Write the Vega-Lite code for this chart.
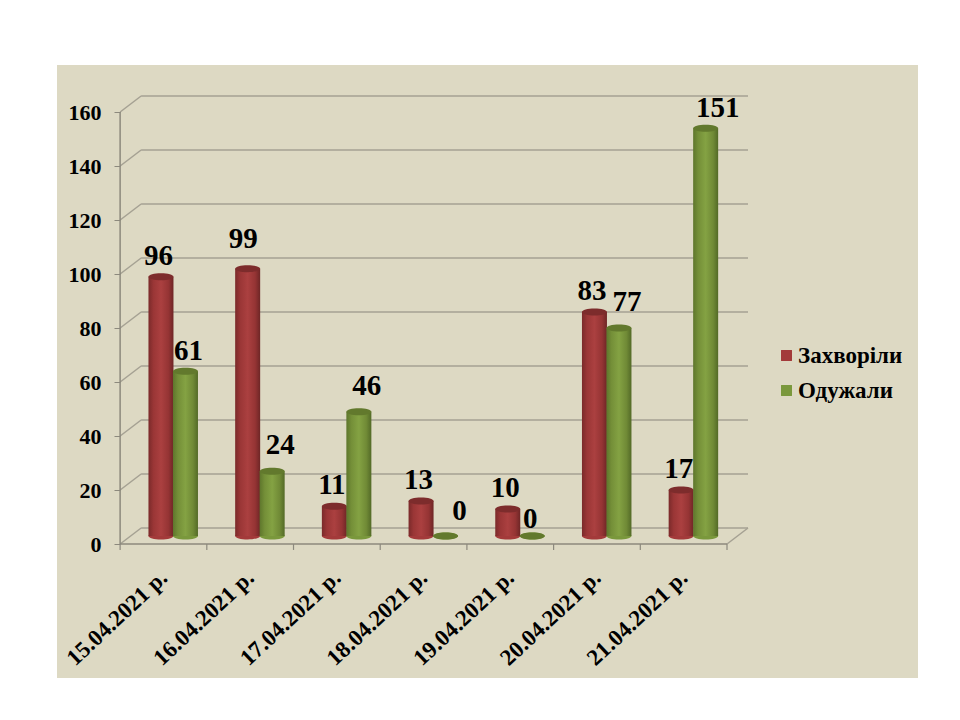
{
  "$schema": "https://vega.github.io/schema/vega-lite/v6.json",
  "background": "#ffffff",
  "autosize": "none",
  "padding": {"left": 57, "top": 65, "right": 42, "bottom": 42},
  "width": 861,
  "height": 613,
  "config": {"view": {"fill": "#DDD9C3", "stroke": null}},
  "datasets": {
    "bars": [
      {"day": 15, "series": "Захворіли", "value": 96},
      {"day": 16, "series": "Захворіли", "value": 99},
      {"day": 17, "series": "Захворіли", "value": 11},
      {"day": 18, "series": "Захворіли", "value": 13},
      {"day": 19, "series": "Захворіли", "value": 10},
      {"day": 20, "series": "Захворіли", "value": 83},
      {"day": 21, "series": "Захворіли", "value": 17},
      {"day": 15, "series": "Одужали", "value": 61},
      {"day": 16, "series": "Одужали", "value": 24},
      {"day": 17, "series": "Одужали", "value": 46},
      {"day": 18, "series": "Одужали", "value": 0},
      {"day": 19, "series": "Одужали", "value": 0},
      {"day": 20, "series": "Одужали", "value": 77},
      {"day": 21, "series": "Одужали", "value": 151}
    ],
    "grid": [{"v": 0}, {"v": 20}, {"v": 40}, {"v": 60}, {"v": 80}, {"v": 100}, {"v": 120}, {"v": 140}, {"v": 160}],
    "ticks": [{"t": 14.5}, {"t": 15.5}, {"t": 16.5}, {"t": 17.5}, {"t": 18.5}, {"t": 19.5}, {"t": 20.5}, {"t": 21.5}]
  },
  "encoding": {
    "x": {
      "type": "quantitative",
      "scale": {"domain": [13.772, 23.703], "nice": false, "zero": false, "padding": 0},
      "title": null
    },
    "y": {
      "type": "quantitative",
      "scale": {"domain": [-49.63, 177.41], "nice": false, "zero": false},
      "title": null
    }
  },
  "layer": [
    {
      "data": {"name": "grid"},
      "mark": {"type": "rule", "color": "#A5A193", "strokeWidth": 1.5, "xOffset": 21, "x2Offset": 21, "yOffset": -16},
      "encoding": {
        "x": {
          "datum": 14.5,
          "axis": {
            "values": [15, 16, 17, 18, 19, 20, 21],
            "labelExpr": "datum.value + '.04.2021 р.'",
            "labelAngle": -43,
            "labelAlign": "right",
            "labelBaseline": "middle",
            "labelFont": "Liberation Serif",
            "labelFontWeight": "bold",
            "labelFontSize": 23,
            "labelColor": "#000000",
            "labelPadding": 30,
            "labelOverlap": false,
            "labelBound": false,
            "labelFlush": false,
            "ticks": false,
            "domain": false,
            "grid": false,
            "offset": -134
          }
        },
        "x2": {"datum": 21.5},
        "y": {
          "field": "v",
          "type": "quantitative",
          "axis": {
            "values": [0, 20, 40, 60, 80, 100, 120, 140, 160],
            "labelFont": "Liberation Serif",
            "labelFontWeight": "bold",
            "labelFontSize": 22,
            "labelColor": "#000000",
            "labelPadding": 13,
            "tickColor": "#8C897D",
            "tickSize": 6,
            "domain": false,
            "grid": false,
            "offset": -63
          }
        }
      }
    },
    {
      "data": {"name": "grid"},
      "mark": {"type": "rule", "color": "#A5A193", "strokeWidth": 1.5, "x2Offset": 21, "y2Offset": -16},
      "encoding": {
        "x": {"datum": 14.5},
        "x2": {"datum": 14.5},
        "y": {"field": "v", "type": "quantitative"},
        "y2": {"field": "v"}
      }
    },
    {
      "data": {"values": [{"v": 0}]},
      "mark": {"type": "rule", "color": "#A5A193", "strokeWidth": 1.5, "x2Offset": 21, "y2Offset": -16},
      "encoding": {
        "x": {"datum": 21.5},
        "x2": {"datum": 21.5},
        "y": {"field": "v", "type": "quantitative"},
        "y2": {"field": "v"}
      }
    },
    {
      "data": {"values": [{"v": 0}]},
      "mark": {"type": "rule", "color": "#8C897D", "strokeWidth": 1.5},
      "encoding": {
        "x": {"datum": 14.5},
        "x2": {"datum": 21.5},
        "y": {"field": "v", "type": "quantitative"}
      }
    },
    {
      "data": {"values": [{"v": 0, "w": 160}]},
      "mark": {"type": "rule", "color": "#8C897D", "strokeWidth": 1.5},
      "encoding": {
        "x": {"datum": 14.5},
        "y": {"field": "v", "type": "quantitative"},
        "y2": {"field": "w"}
      }
    },
    {
      "data": {"name": "ticks"},
      "mark": {"type": "rule", "color": "#8C897D", "strokeWidth": 1.2},
      "encoding": {
        "x": {"field": "t", "type": "quantitative"},
        "y": {"datum": 0},
        "y2": {"datum": -2.2}
      }
    },
    {
      "data": {"name": "bars"},
      "transform": [{"filter": "datum.series == 'Захворіли'"}],
      "layer": [
        {
          "mark": {"type": "point", "filled": true, "opacity": 1, "size": 625, "xOffset": -2.5, "yOffset": -8, "shape": "M-1,0A1,0.28,0,1,1,1,0A1,0.28,0,1,1,-1,0Z"},
          "encoding": {
            "x": {"field": "day", "type": "quantitative"},
            "y": {"datum": 0},
            "color": {
              "field": "series",
              "type": "nominal",
              "scale": {"domain": ["Захворіли", "Одужали"], "range": ["#A33A3A", "#7A983C"]},
              "legend": {
                "orient": "none",
                "legendX": 718,
                "legendY": 279,
                "title": null,
                "symbolType": "square",
                "symbolSize": 120,
                "labelFont": "Liberation Serif",
                "labelFontWeight": "bold",
                "labelFontSize": 23,
                "labelColor": "#000000",
                "labelOffset": 0,
                "rowPadding": 11
              }
            }
          }
        },
        {
          "mark": {
            "type": "bar",
            "orient": "vertical",
            "width": 25,
            "xOffset": -2.5,
            "yOffset": -8,
            "y2Offset": -8,
            "fill": {
              "gradient": "linear",
              "x1": 0,
              "x2": 1,
              "y1": 0,
              "y2": 0,
              "stops": [
                {"offset": 0, "color": "#7A2A2A"},
                {"offset": 0.2, "color": "#9A3636"},
                {"offset": 0.5, "color": "#AB4040"},
                {"offset": 0.8, "color": "#953434"},
                {"offset": 1, "color": "#6E2626"}
              ]
            }
          },
          "encoding": {
            "x": {"field": "day", "type": "quantitative"},
            "y": {"field": "value", "type": "quantitative"},
            "y2": {"datum": 0}
          }
        },
        {
          "mark": {"type": "point", "filled": true, "opacity": 1, "color": "#7D2C2C", "size": 625, "xOffset": -2.5, "yOffset": -8, "shape": "M-1,0A1,0.28,0,1,1,1,0A1,0.28,0,1,1,-1,0Z"},
          "encoding": {
            "x": {"field": "day", "type": "quantitative"},
            "y": {"field": "value", "type": "quantitative"}
          }
        }
      ]
    },
    {
      "data": {"name": "bars"},
      "transform": [{"filter": "datum.series == 'Одужали'"}],
      "layer": [
        {
          "mark": {"type": "point", "filled": true, "opacity": 1, "size": 625, "xOffset": 22, "yOffset": -8, "shape": "M-1,0A1,0.28,0,1,1,1,0A1,0.28,0,1,1,-1,0Z"},
          "encoding": {
            "x": {"field": "day", "type": "quantitative"},
            "y": {"datum": 0},
            "color": {"field": "series", "type": "nominal"}
          }
        },
        {
          "mark": {
            "type": "bar",
            "orient": "vertical",
            "width": 25,
            "xOffset": 22,
            "yOffset": -8,
            "y2Offset": -8,
            "fill": {
              "gradient": "linear",
              "x1": 0,
              "x2": 1,
              "y1": 0,
              "y2": 0,
              "stops": [
                {"offset": 0, "color": "#5E762C"},
                {"offset": 0.2, "color": "#748F38"},
                {"offset": 0.5, "color": "#84A243"},
                {"offset": 0.8, "color": "#708A36"},
                {"offset": 1, "color": "#536A27"}
              ]
            }
          },
          "encoding": {
            "x": {"field": "day", "type": "quantitative"},
            "y": {"field": "value", "type": "quantitative"},
            "y2": {"datum": 0}
          }
        },
        {
          "mark": {"type": "point", "filled": true, "opacity": 1, "color": "#62792D", "size": 625, "xOffset": 22, "yOffset": -8, "shape": "M-1,0A1,0.28,0,1,1,1,0A1,0.28,0,1,1,-1,0Z"},
          "encoding": {
            "x": {"field": "day", "type": "quantitative"},
            "y": {"field": "value", "type": "quantitative"}
          }
        }
      ]
    },
    {
      "data": {"name": "bars"},
      "transform": [{"filter": "datum.series == 'Захворіли' && datum.day != 16"}],
      "mark": {"type": "text", "font": "Liberation Serif", "fontWeight": "bold", "fontSize": 29, "color": "#000000", "baseline": "middle", "xOffset": -5, "yOffset": -29},
      "encoding": {"x": {"field": "day", "type": "quantitative"}, "y": {"field": "value", "type": "quantitative"}, "text": {"field": "value"}}
    },
    {
      "data": {"name": "bars"},
      "transform": [{"filter": "datum.series == 'Захворіли' && datum.day == 16"}],
      "mark": {"type": "text", "font": "Liberation Serif", "fontWeight": "bold", "fontSize": 29, "color": "#000000", "baseline": "middle", "xOffset": -7, "yOffset": -38},
      "encoding": {"x": {"field": "day", "type": "quantitative"}, "y": {"field": "value", "type": "quantitative"}, "text": {"field": "value"}}
    },
    {
      "data": {"name": "bars"},
      "transform": [{"filter": "datum.series == 'Одужали' && (datum.day == 16 || datum.day == 17 || datum.day == 20)"}],
      "mark": {"type": "text", "font": "Liberation Serif", "fontWeight": "bold", "fontSize": 29, "color": "#000000", "baseline": "middle", "xOffset": 30, "yOffset": -34},
      "encoding": {"x": {"field": "day", "type": "quantitative"}, "y": {"field": "value", "type": "quantitative"}, "text": {"field": "value"}}
    },
    {
      "data": {"name": "bars"},
      "transform": [{"filter": "datum.series == 'Одужали' && datum.day == 15"}],
      "mark": {"type": "text", "font": "Liberation Serif", "fontWeight": "bold", "fontSize": 29, "color": "#000000", "baseline": "middle", "xOffset": 25, "yOffset": -28},
      "encoding": {"x": {"field": "day", "type": "quantitative"}, "y": {"field": "value", "type": "quantitative"}, "text": {"field": "value"}}
    },
    {
      "data": {"name": "bars"},
      "transform": [{"filter": "datum.series == 'Одужали' && datum.day == 18"}],
      "mark": {"type": "text", "font": "Liberation Serif", "fontWeight": "bold", "fontSize": 29, "color": "#000000", "baseline": "middle", "xOffset": 36, "yOffset": -33},
      "encoding": {"x": {"field": "day", "type": "quantitative"}, "y": {"field": "value", "type": "quantitative"}, "text": {"field": "value"}}
    },
    {
      "data": {"name": "bars"},
      "transform": [{"filter": "datum.series == 'Одужали' && datum.day == 19"}],
      "mark": {"type": "text", "font": "Liberation Serif", "fontWeight": "bold", "fontSize": 29, "color": "#000000", "baseline": "middle", "xOffset": 20, "yOffset": -25},
      "encoding": {"x": {"field": "day", "type": "quantitative"}, "y": {"field": "value", "type": "quantitative"}, "text": {"field": "value"}}
    },
    {
      "data": {"name": "bars"},
      "transform": [{"filter": "datum.series == 'Одужали' && datum.day == 21"}],
      "mark": {"type": "text", "font": "Liberation Serif", "fontWeight": "bold", "fontSize": 29, "color": "#000000", "baseline": "middle", "xOffset": 34, "yOffset": -28},
      "encoding": {"x": {"field": "day", "type": "quantitative"}, "y": {"field": "value", "type": "quantitative"}, "text": {"field": "value"}}
    }
  ]
}
